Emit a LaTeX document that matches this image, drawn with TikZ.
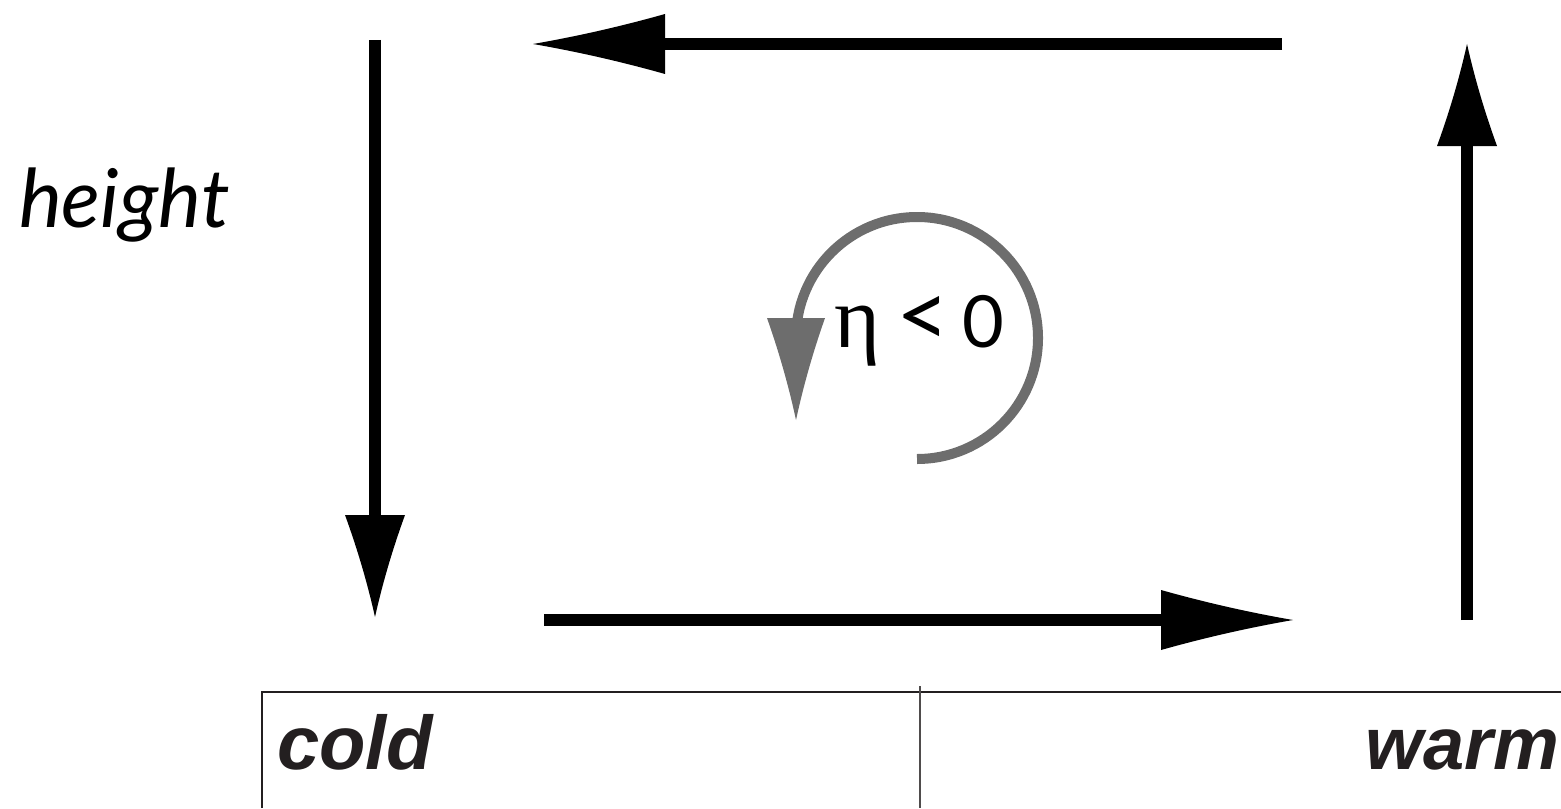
\documentclass[tikz,border=0pt]{standalone}
\usepackage{fontspec}
\usetikzlibrary{arrows.meta}
\newfontfamily\humanist{Lato}
\newfontfamily\grotesk{Liberation Sans}
\newfontfamily\greekserif{Liberation Serif}
\definecolor{ink}{HTML}{231F20}
\definecolor{swirl}{HTML}{6D6D6D}

% flared arrow head: flat back, concave sides running into a sharp point
\pgfdeclarearrow{
  name = Spike,
  parameters = {\the\pgfarrowlength,\the\pgfarrowwidth},
  setup code = {
    \pgfarrowssettipend{0pt}
    \pgfarrowssetbackend{-\pgfarrowlength}
    \pgfarrowssetlineend{-0.3\pgfarrowlength}
    \pgfarrowshullpoint{0pt}{0pt}
    \pgfarrowshullpoint{-\pgfarrowlength}{.5\pgfarrowwidth}
    \pgfarrowshullpoint{-\pgfarrowlength}{-.5\pgfarrowwidth}
    \pgfarrowssavethe\pgfarrowlength
    \pgfarrowssavethe\pgfarrowwidth
  },
  drawing code = {
    \pgfpathmoveto{\pgfqpoint{0pt}{0pt}}
    \pgfpathquadraticcurveto{\pgfpoint{-.5\pgfarrowlength}{.19\pgfarrowwidth}}{\pgfpoint{-\pgfarrowlength}{.5\pgfarrowwidth}}
    \pgfpathlineto{\pgfpoint{-\pgfarrowlength}{-.5\pgfarrowwidth}}
    \pgfpathquadraticcurveto{\pgfpoint{-.5\pgfarrowlength}{-.19\pgfarrowwidth}}{\pgfpoint{0pt}{0pt}}
    \pgfpathclose
    \pgfusepathqfill
  },
  defaults = {length=50pt, width=30pt}
}

\tikzset{
  flowv/.style={line width=6pt, -{Spike[length=51pt,width=30pt]}},
  flowh/.style={line width=6pt, -{Spike[length=66pt,width=30pt]}},
  vortex/.style={swirl, line width=5pt, -{Spike[length=51pt,width=29pt]}},
  frame/.style={ink, line width=1pt},
  divider/.style={ink!80, line width=0.8pt},
  label/.style={inner sep=0pt, outer sep=0pt},
}

\begin{document}
\begin{tikzpicture}[x=0.5pt, y=-0.5pt]
\useasboundingbox (0,0) rectangle (1561,808);

% circulation cell
\coordinate (ltop) at (375,40);
\coordinate (lbot) at (375,617);
\coordinate (tr) at (1282,44);
\coordinate (tl) at (533,44);
\coordinate (rbot) at (1467,620);
\coordinate (rtop) at (1467,44);
\coordinate (bl) at (544,620);
\coordinate (br) at (1293,620);

\draw[flowv] (ltop) -- (lbot);
\draw[flowh] (tr) -- (tl);
\draw[flowv] (rbot) -- (rtop);
\draw[flowh] (bl) -- (br);

% vorticity swirl and its label
\coordinate (vstart) at (917,459);
\draw[vortex] (vstart) arc[start angle=-90, end angle=180, radius=60.5pt] -- ++(0,-41pt);
\node[label, anchor=base] (eta) at (857,347)
  {\fontsize{44pt}{48pt}\selectfont\greekserif η};
\node[label, anchor=base] (lt) at (923,347)
  {\fontsize{46pt}{50pt}\selectfont\humanist <};
\node[label, anchor=base] (zero) at (983,347)
  {\fontsize{36pt}{40pt}\selectfont\humanist 0};

% vertical axis label
\node[label, anchor=base west] (height) at (19,227)
  {\fontsize{40.5pt}{44pt}\selectfont\humanist\itshape height};

% temperature strip
\coordinate (fbl) at (262,808);
\coordinate (ftl) at (262,692);
\coordinate (ftr) at (1561,692);
\coordinate (dtop) at (920,686);
\coordinate (dbot) at (920,808);
\draw[frame] (fbl) -- (ftl) -- (ftr);
\draw[divider] (dtop) -- (dbot);
\node[label, anchor=base west, text=ink] (cold) at (277,769)
  {\fontsize{38pt}{42pt}\selectfont\grotesk\bfseries\itshape cold};
\node[label, anchor=base east, text=ink] (warm) at (1559,769)
  {\fontsize{37pt}{42pt}\selectfont\grotesk\bfseries\itshape warm};
\end{tikzpicture}
\end{document}
